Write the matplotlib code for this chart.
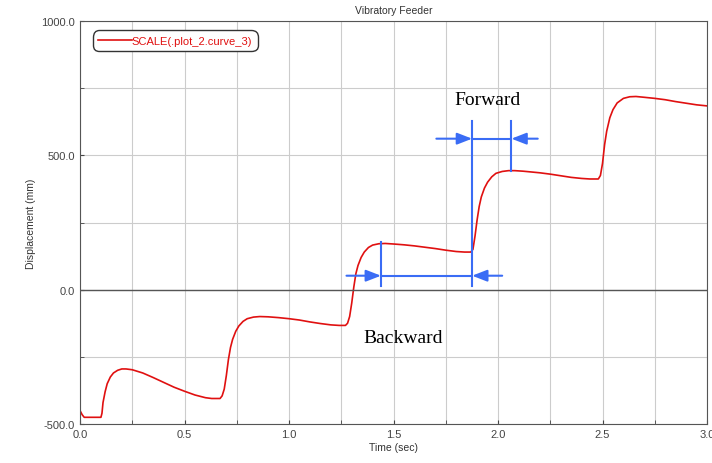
import matplotlib.pyplot as plt

# displacement curve
time = [0.0, 0.01, 0.02, 0.1, 0.105, 0.11, 0.12, 0.13, 0.145, 0.16, 0.18, 0.2, 0.22, 0.25,
        0.3, 0.35, 0.4, 0.45, 0.5, 0.55, 0.6, 0.63, 0.67, 0.68,
        0.69, 0.7, 0.71, 0.72, 0.73, 0.745, 0.76, 0.78, 0.8, 0.83, 0.86, 0.9, 0.95,
        1.0, 1.05, 1.1, 1.15, 1.2, 1.24, 1.27, 1.28,
        1.29, 1.3, 1.31, 1.32, 1.33, 1.345, 1.36, 1.38, 1.4, 1.43, 1.46, 1.5, 1.55,
        1.6, 1.65, 1.7, 1.75, 1.8, 1.84, 1.87, 1.88,
        1.89, 1.9, 1.91, 1.92, 1.935, 1.95, 1.97, 1.99, 2.02, 2.05, 2.08, 2.12,
        2.2, 2.25, 2.3, 2.35, 2.4, 2.44, 2.48, 2.49,
        2.5, 2.51, 2.52, 2.535, 2.55, 2.57, 2.6, 2.63, 2.66, 2.7, 2.75,
        2.8, 2.85, 2.9, 2.95, 3.0]
disp = [-450, -465, -475, -475, -460, -420, -380, -350, -325, -310, -300, -295, -295, -298,
        -310, -327, -345, -363, -378, -392, -402, -405, -405, -395,
        -370, -320, -260, -215, -185, -155, -135, -118, -108, -102, -100, -101, -104,
        -108, -113, -120, -126, -131, -133, -133, -125,
        -100, -50, 10, 60, 90, 120, 140, 157, 166, 171, 172, 170, 167,
        163, 158, 153, 147, 142, 140, 140, 150,
        200, 260, 310, 345, 378, 400, 420, 433, 440, 443, 443, 441,
        435, 430, 424, 418, 414, 412, 412, 425,
        470, 540, 590, 640, 670, 695, 712, 718, 719, 716, 712,
        707, 700, 694, 688, 684]

xticks = [0.0, 0.5, 1.0, 1.5, 2.0, 2.5, 3.0]
yticks = [-500, 0, 500, 1000]

blue = '#3a6cf5'
red = '#e01010'

plt.rcParams['font.family'] = ['Liberation Sans', 'DejaVu Sans']
fig = plt.figure(figsize=(7.12, 4.64), dpi=100)
ax = fig.add_axes([0.1124, 0.084, 0.8806, 0.8686])

ax.plot(time, disp, color=red, lw=1.2, label='SCALE(.plot_2.curve_3)')

ax.set_xlim(0, 3)
ax.set_ylim(-500, 1000)
ax.set_xticks(xticks)
ax.set_xticklabels([f'{v:.1f}' for v in xticks])
ax.set_xticks([0.25, 0.75, 1.25, 1.75, 2.25, 2.75], minor=True)
ax.set_yticks(yticks)
ax.set_yticklabels([f'{v:.1f}' for v in yticks])
ax.set_yticks([-250, 250, 750], minor=True)
ax.grid(True, which='both', color='#cccccc', lw=0.8)
ax.axhline(0, color='#555555', lw=1)
ax.tick_params(which='both', direction='in', labelsize=8, labelcolor='#444444',
               colors='#444444', length=3)
for s in ax.spines.values():
    s.set_color('#555555')
ax.set_title('Vibratory Feeder', fontsize=7.5, color='#333333', pad=6)
ax.set_xlabel('Time (sec)', fontsize=7.5, labelpad=2, color='#333333')
ax.set_ylabel('Displacement (mm)', fontsize=7.5, color='#333333')

leg = ax.legend(loc='upper left', fontsize=8, handlelength=3.0, handletextpad=0.0,
                fancybox=True, edgecolor='#333333', framealpha=1, borderpad=0.3,
                bbox_to_anchor=(0.015, 0.985))
leg.get_frame().set_boxstyle('round,pad=0.2,rounding_size=0.6')
for t in leg.get_texts():
    t.set_color(red)

# Backward annotation
arr = dict(arrowstyle='-|>,head_length=0.9,head_width=0.35', color=blue, lw=1.5,
           shrinkA=0, shrinkB=0)
ax.plot([1.44, 1.876], [52, 52], color=blue, lw=1.5)
ax.plot([1.44, 1.44], [15, 178], color=blue, lw=1.5)
ax.plot([1.876, 1.876], [15, 629], color=blue, lw=1.5)
ax.annotate('', xy=(1.44, 52), xytext=(1.275, 52), arrowprops=arr)
ax.annotate('', xy=(1.876, 52), xytext=(2.02, 52), arrowprops=arr)
ax.text(1.545, -178, 'Backward', family='Liberation Serif', fontsize=14,
        ha='center', va='center')

# Forward annotation
ax.plot([1.876, 2.064], [562, 562], color=blue, lw=1.5)
ax.plot([2.064, 2.064], [443, 629], color=blue, lw=1.5)
ax.annotate('', xy=(1.876, 562), xytext=(1.705, 562), arrowprops=arr)
ax.annotate('', xy=(2.064, 562), xytext=(2.19, 562), arrowprops=arr)
ax.text(1.95, 706, 'Forward', family='Liberation Serif', fontsize=14,
        ha='center', va='center')

fig.savefig('out.png', dpi=100)
